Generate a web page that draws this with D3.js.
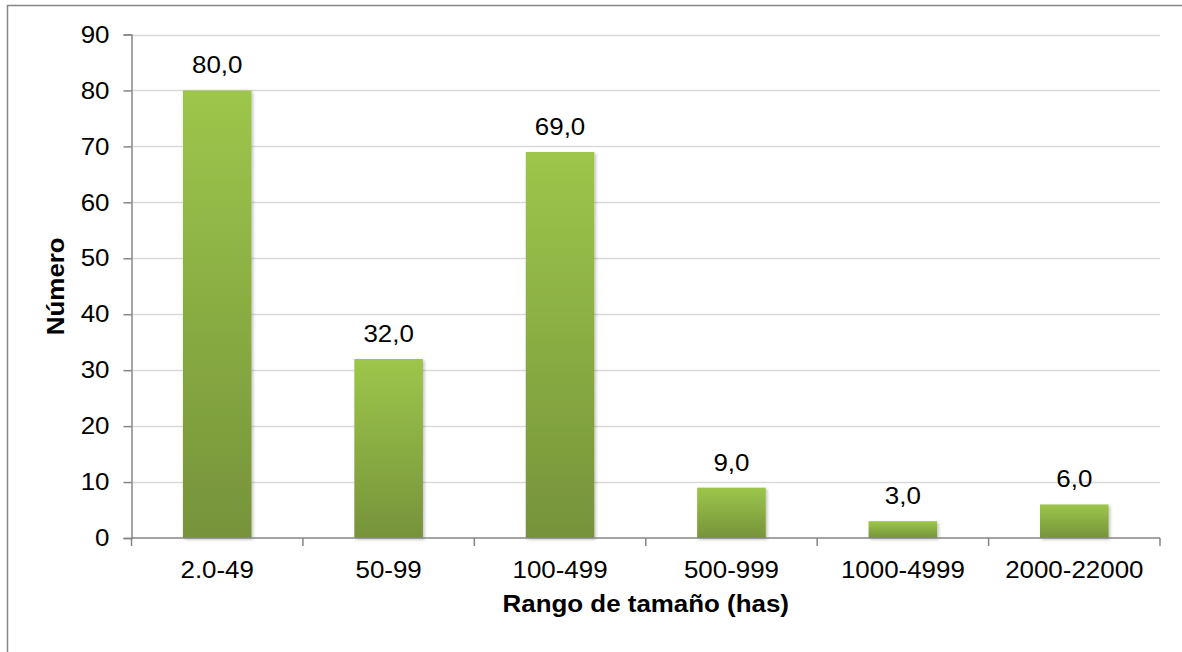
<!DOCTYPE html>
<html>
<head>
<meta charset="utf-8">
<script src="https://cdn.jsdelivr.net/npm/d3@7"></script>
<style>
  html, body { margin: 0; padding: 0; background: #fff; }
  svg { display: block; font-family: "Liberation Sans", Arial, sans-serif; }
</style>
</head>
<body>
<svg id="chart" width="1182" height="652"></svg>
<script>
const categories = ["2.0-49", "50-99", "100-499", "500-999", "1000-4999", "2000-22000"];
const values = [80, 32, 69, 9, 3, 6];
const yTicks = [0, 10, 20, 30, 40, 50, 60, 70, 80, 90];
const xTitle = "Rango de tamaño (has)";
const yTitle = "Número";

const svg = d3.select("#chart");
const pLeft = 131.5, pRight = 1160, pTop = 34.5, pBottom = 538;
const SX = 1.08; // horizontal text stretch seen in the reference

function place(sel, fx, fy, extra) {
  sel.attr("x", 0).attr("y", 0)
    .attr("transform", (d, i) => `translate(${fx(d, i)},${fy(d, i)})${extra || ""} scale(${SX},1)`);
}

// chart border
svg.append("rect").attr("x", 7.5).attr("y", 5.5).attr("width", 1200).attr("height", 700)
  .attr("fill", "#fff").attr("stroke", "#868686").attr("stroke-width", 1.5);

const defs = svg.append("defs");
const grad = defs.append("linearGradient").attr("id", "barGrad")
  .attr("x1", 0).attr("y1", 0).attr("x2", 0).attr("y2", 1);
grad.append("stop").attr("offset", "0%").attr("stop-color", "#9dc64b");
grad.append("stop").attr("offset", "100%").attr("stop-color", "#76933a");
const f = defs.append("filter").attr("id", "shadow").attr("x", "-20%").attr("y", "-20%").attr("width", "140%").attr("height", "140%");
f.append("feDropShadow").attr("dx", 1.5).attr("dy", 1.5).attr("stdDeviation", 1.5)
  .attr("flood-color", "#000").attr("flood-opacity", 0.25);

const x = d3.scaleBand().domain(categories).range([pLeft, pRight]).paddingInner(0.6).paddingOuter(0.3);
const y = d3.scaleLinear().domain([0, 90]).range([pBottom, pTop]);

// gridlines
svg.append("g").selectAll("line").data(yTicks.filter(d => d > 0)).join("line")
  .attr("x1", pLeft).attr("x2", pRight)
  .attr("y1", d => Math.round(y(d)) + 0.5).attr("y2", d => Math.round(y(d)) + 0.5)
  .attr("stroke", "#d9d9d9").attr("stroke-width", 1.5);

// bars
svg.append("g").selectAll("rect").data(values).join("rect")
  .attr("x", (d, i) => x(categories[i]))
  .attr("width", x.bandwidth())
  .attr("y", d => y(d))
  .attr("height", d => y(0) - y(d))
  .attr("fill", "url(#barGrad)")
  .attr("filter", "url(#shadow)");

// value labels
const vl = svg.append("g").selectAll("text").data(values).join("text")
  .attr("text-anchor", "middle")
  .attr("font-size", 24)
  .attr("fill", "#000")
  .text(d => d.toFixed(1).replace(".", ","));
place(vl, (d, i) => x(categories[i]) + x.bandwidth() / 2, d => y(d) - 17);

// y axis
const yAxis = d3.axisLeft(y).tickValues(yTicks).tickSize(8).tickPadding(14).tickFormat(d3.format("d"));
const gy = svg.append("g").attr("transform", `translate(${pLeft},0)`).call(yAxis);
gy.selectAll("line").attr("stroke", "#868686").attr("stroke-width", 1.5);
gy.select(".domain").attr("stroke", "#868686").attr("stroke-width", 1.5);
gy.selectAll("text").attr("font-size", 24).attr("fill", "#000")
  .attr("font-family", "Liberation Sans, Arial, sans-serif")
  .attr("x", 0).attr("transform", `translate(-22,0) scale(${SX},1)`);

// x axis
const gx = svg.append("g").attr("transform", `translate(0,${pBottom})`);
gx.append("line").attr("x1", pLeft).attr("x2", pRight).attr("y1", 0).attr("y2", 0)
  .attr("stroke", "#868686").attr("stroke-width", 1.5);
const boundaries = d3.range(categories.length + 1).map(i => pLeft + i * (pRight - pLeft) / categories.length);
gx.selectAll("line.tick").data(boundaries).join("line").attr("class", "tick")
  .attr("x1", d => d).attr("x2", d => d).attr("y1", 0).attr("y2", 8)
  .attr("stroke", "#868686").attr("stroke-width", 1.5);
const xl = gx.selectAll("text").data(categories).join("text")
  .attr("text-anchor", "middle")
  .attr("font-size", 24)
  .attr("fill", "#000")
  .text(d => d);
place(xl, d => x(d) + x.bandwidth() / 2, () => 40);

// titles
const xt = svg.append("text").datum(xTitle)
  .attr("text-anchor", "middle").attr("font-size", 24).attr("font-weight", "bold")
  .text(xTitle);
place(xt, () => (pLeft + pRight) / 2, () => 612);
svg.append("text").attr("transform", `translate(64,${(pTop + pBottom) / 2}) rotate(-90) scale(${SX},1)`)
  .attr("text-anchor", "middle").attr("font-size", 24).attr("font-weight", "bold")
  .text(yTitle);
</script>
</body>
</html>
